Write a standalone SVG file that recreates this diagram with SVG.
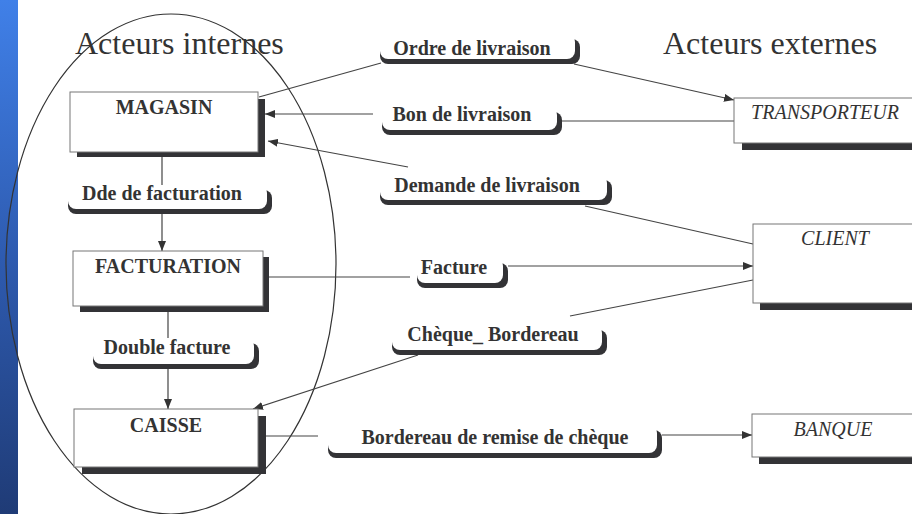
<svg xmlns="http://www.w3.org/2000/svg" width="912" height="514" viewBox="0 0 912 514">
<defs>
<linearGradient id="bar" x1="0" y1="0" x2="0" y2="1">
<stop offset="0" stop-color="#4080e8"/>
<stop offset="0.5" stop-color="#2e5bb0"/>
<stop offset="1" stop-color="#1f3b76"/>
</linearGradient>
<marker id="arr" markerUnits="userSpaceOnUse" markerWidth="11" markerHeight="8" refX="10" refY="4" orient="auto">
<path d="M0,0 L10,4 L0,8 z" fill="#333"/>
</marker>
<style>
.box{fill:#fff;stroke:#777;stroke-width:1}
.sh{fill:#333336}
.lw{fill:#fff}
.ld{fill:#333336}
.bt{font-family:"Liberation Serif","Times New Roman",serif;font-weight:bold;font-size:20px;fill:#333;text-anchor:middle}
.it{font-family:"Liberation Serif","Times New Roman",serif;font-style:italic;font-size:20px;fill:#333;text-anchor:middle}
.hd{font-family:"Liberation Serif","Times New Roman",serif;font-size:32px;fill:#333}
.ln{fill:none;stroke:#444;stroke-width:1.2}
.la{fill:none;stroke:#444;stroke-width:1.2;marker-end:url(#arr)}
</style>
</defs>
<rect x="0" y="0" width="912" height="514" fill="#fff"/>
<rect x="0" y="0" width="18" height="514" fill="url(#bar)"/>

<text class="hd" x="75" y="54">Acteurs internes</text>
<text class="hd" x="663" y="54">Acteurs externes</text>

<ellipse cx="171" cy="264" rx="165" ry="250" fill="none" stroke="#333" stroke-width="1.2"/>

<g id="connectors">
<path class="ln" d="M259,97 L381,63"/>
<path class="la" d="M574,64 L734,100"/>
<path class="ln" d="M734,121 L562,121"/>
<path class="la" d="M373,114 L265,114"/>
<path class="ln" d="M753,244 L585,206"/>
<path class="la" d="M408,167 L268,141"/>
<path class="ln" d="M162,157 L162,185"/>
<path class="la" d="M162,214 L162,251"/>
<path class="ln" d="M269,277 L410,277"/>
<path class="la" d="M508,266 L753,266"/>
<path class="ln" d="M753,280 L570,316"/>
<path class="la" d="M418,355 L253,409"/>
<path class="ln" d="M168,312 L168,338"/>
<path class="la" d="M168,369 L168,409"/>
<path class="ln" d="M266,436 L318,436"/>
<path class="la" d="M662,435 L752,435"/>
</g>

<g id="magasin">
<rect class="sh" x="77" y="99" width="188" height="58"/>
<rect class="box" x="70" y="92" width="188" height="60"/>
<text class="bt" x="164" y="114">MAGASIN</text>
</g>
<g id="facturation">
<rect class="sh" x="80" y="257" width="189" height="55"/>
<rect class="box" x="73" y="251" width="190" height="55"/>
<text class="bt" x="168" y="273">FACTURATION</text>
</g>
<g id="caisse">
<rect class="sh" x="82" y="416" width="184" height="58"/>
<rect class="box" x="74" y="409" width="184" height="58"/>
<text class="bt" x="166" y="432">CAISSE</text>
</g>

<g id="transporteur">
<rect class="sh" x="742" y="105" width="180" height="45"/>
<rect class="box" x="734" y="98" width="190" height="45"/>
<text class="it" x="825" y="119">TRANSPORTEUR</text>
</g>
<g id="client">
<rect class="sh" x="760" y="231" width="170" height="79"/>
<rect class="box" x="753" y="224" width="170" height="79"/>
<text class="it" x="835" y="245">CLIENT</text>
</g>
<g id="banque">
<rect class="sh" x="759" y="421" width="170" height="43"/>
<rect class="box" x="752" y="414" width="170" height="43"/>
<text class="it" x="833" y="436">BANQUE</text>
</g>

<g id="lbl-ordre">
<rect class="ld" x="380" y="39" width="200" height="25" rx="8"/>
<rect class="lw" x="380" y="34" width="195" height="25" rx="8"/>
<text class="bt" x="472" y="55">Ordre de livraison</text>
</g>
<g id="lbl-bon">
<rect class="ld" x="382" y="112" width="180" height="23" rx="8"/>
<rect class="lw" x="382" y="107" width="175" height="23" rx="8"/>
<text class="bt" x="462" y="121">Bon de livraison</text>
</g>
<g id="lbl-demande">
<rect class="ld" x="380" y="180" width="232" height="25" rx="8"/>
<rect class="lw" x="380" y="175" width="227" height="25" rx="8"/>
<text class="bt" x="487" y="192">Demande de livraison</text>
</g>
<g id="lbl-facture">
<rect class="ld" x="417" y="263" width="91" height="25" rx="8"/>
<rect class="lw" x="417" y="258" width="86" height="25" rx="8"/>
<text class="bt" x="454" y="274">Facture</text>
</g>
<g id="lbl-cheque">
<rect class="ld" x="392" y="330" width="215" height="25" rx="8"/>
<rect class="lw" x="392" y="325" width="210" height="25" rx="8"/>
<text class="bt" x="493" y="341">Chèque_ Bordereau</text>
</g>
<g id="lbl-bordereau">
<rect class="ld" x="328" y="430" width="334" height="28" rx="8"/>
<rect class="lw" x="328" y="425" width="329" height="28" rx="8"/>
<text class="bt" x="495" y="444">Bordereau de remise de chèque</text>
</g>
<g id="lbl-dde">
<rect class="ld" x="68" y="190" width="204" height="24" rx="8"/>
<rect class="lw" x="68" y="185" width="199" height="24" rx="8"/>
<text class="bt" x="162" y="200">Dde de facturation</text>
</g>
<g id="lbl-double">
<rect class="ld" x="93" y="343" width="166" height="26" rx="8"/>
<rect class="lw" x="93" y="338" width="161" height="26" rx="8"/>
<text class="bt" x="167" y="354">Double facture</text>
</g>
</svg>
